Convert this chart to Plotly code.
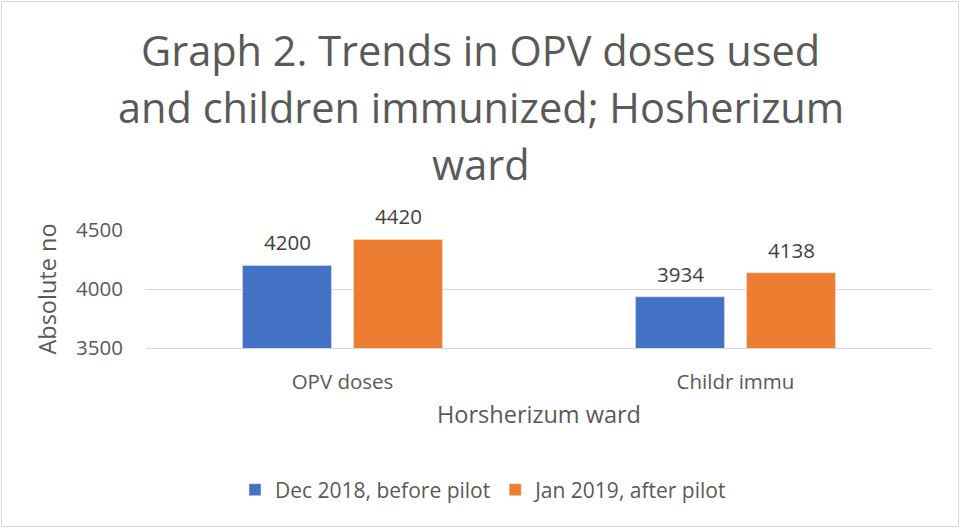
import plotly.graph_objects as go

categories = ["OPV doses", "Childr immu"]
series_names = ["Dec 2018, before pilot", "Jan 2019, after pilot"]
dec_2018 = [4200, 3934]
jan_2019 = [4420, 4138]
y_ticks = [3500, 4000, 4500]
title_lines = ["Graph 2. Trends in OPV doses used", "and children immunized; Hosherizum", "ward"]

W, H = 961, 529
L, R, T, B = 146, 29, 230, 181
pw, ph = W - L - R, H - T - B

def px_x(x):
    return (x - L) / pw

def px_y(y):
    return (H - B - y) / ph

FONT = "Open Sans"
GREY = "#595959"
colors = ["#4472C4", "#ED7D31"]
slot_px = 111

fig = go.Figure()
for i, (name, vals) in enumerate(zip(series_names, [dec_2018, jan_2019])):
    fig.add_trace(go.Bar(x=categories, y=vals, name=name, marker_color=colors[i]))
    for cat, v in zip(categories, vals):
        fig.add_annotation(x=cat, y=v, text=str(v), showarrow=False, xref="x", yref="y",
                           xanchor="center", yanchor="middle",
                           xshift=(i - 0.5) * slot_px, yshift=23,
                           font=dict(size=20.5, color="#404040", family=FONT))

for line, ypix in zip(title_lines, [50, 107, 164]):
    fig.add_annotation(text=line, x=px_x(480.5), y=px_y(ypix), xref="paper", yref="paper",
                       xanchor="center", yanchor="middle", showarrow=False,
                       font=dict(size=41.5, color=GREY, family=FONT))

fig.add_shape(type="rect", xref="paper", yref="paper",
              x0=px_x(1.5), x1=px_x(958.5), y0=px_y(526.5), y1=px_y(1.5),
              line=dict(color="#d9d9d9", width=1), layer="below")

fig.update_layout(
    width=W, height=H,
    margin=dict(l=L, r=R, t=T, b=B),
    paper_bgcolor="white", plot_bgcolor="white",
    barmode="group", bargap=0.435, bargroupgap=0.198,
    font=dict(family=FONT, color=GREY, size=20),
    showlegend=True,
    legend=dict(orientation="h", x=px_x(484), xanchor="center", y=px_y(490), yanchor="middle",
                font=dict(size=21, color=GREY, family=FONT), itemwidth=30),
    xaxis=dict(showgrid=False, showline=True, linecolor="#d9d9d9", ticks="",
               tickfont=dict(size=20.5, color=GREY), ticklabelstandoff=15,
               title=dict(text="Horsherizum ward", font=dict(size=23.5, color=GREY), standoff=12)),
    yaxis=dict(range=[3500, 4500], tickvals=y_ticks, showgrid=True, gridcolor="#d9d9d9",
               zeroline=False, showline=False, ticks="",
               tickfont=dict(size=20.5, color=GREY), ticklabelstandoff=22,
               title=dict(text="Absolute no", font=dict(size=23.5, color=GREY), standoff=12)),
)

fig.write_html("out.html", post_script="document.body.style.margin='0px';",
               config={"displayModeBar": False})
